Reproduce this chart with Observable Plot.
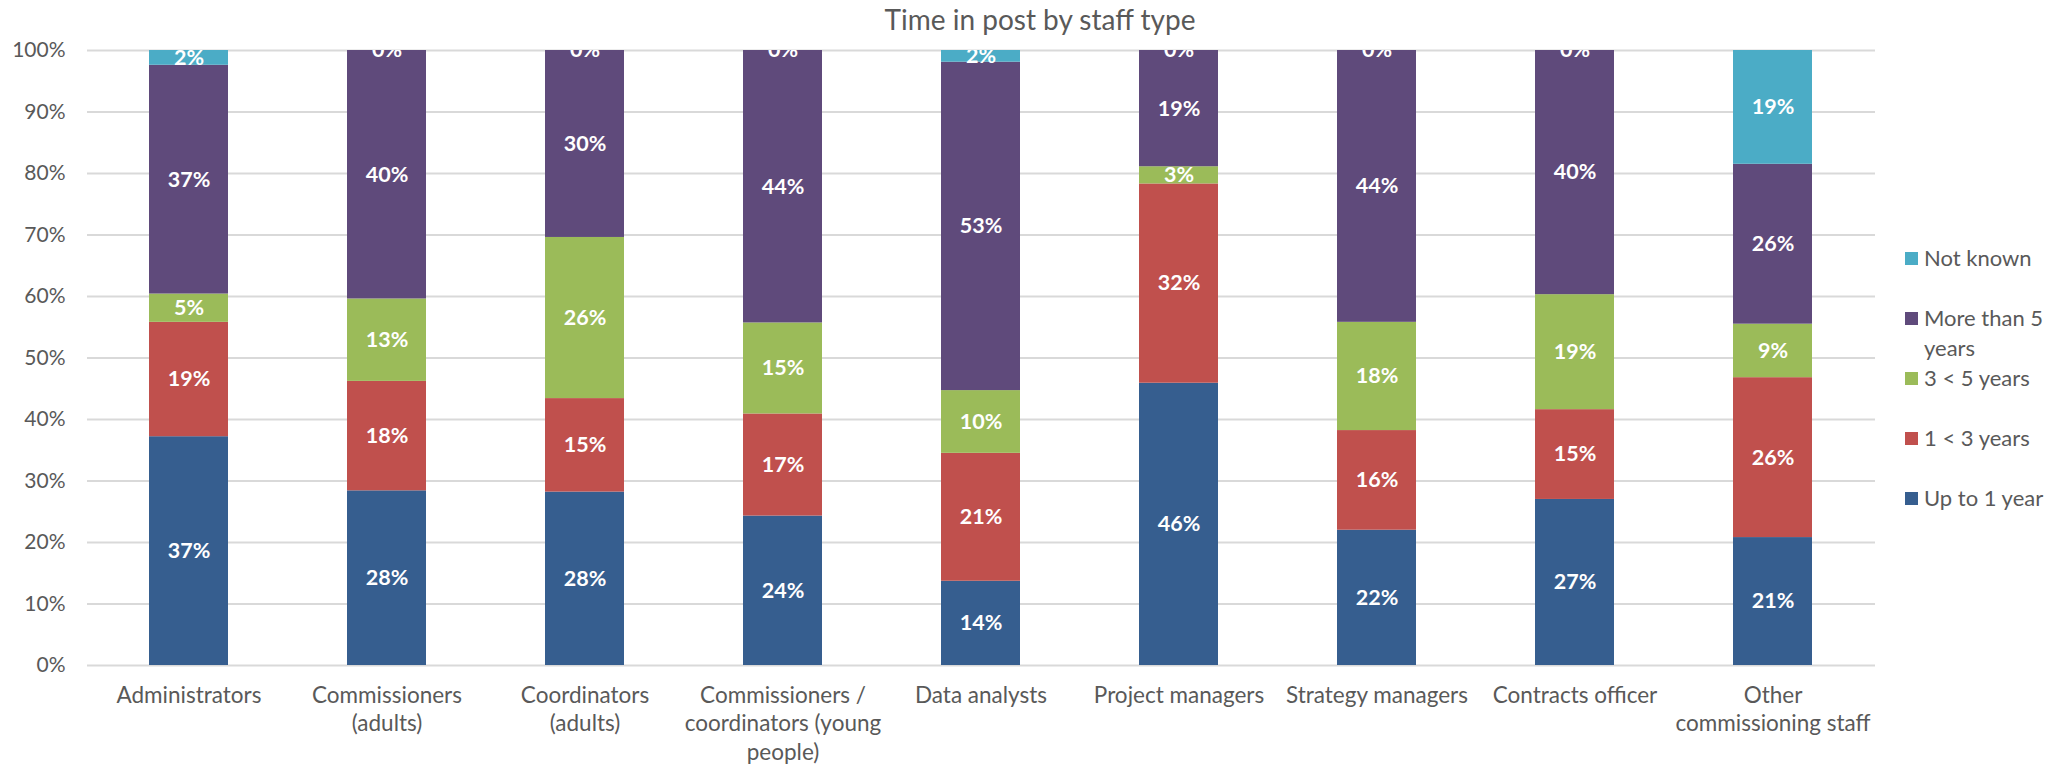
<!DOCTYPE html>
<html>
<head>
<meta charset="utf-8">
<script src="https://cdn.jsdelivr.net/npm/d3@7"></script>
<script src="https://cdn.jsdelivr.net/npm/@observablehq/plot@0.6"></script>
<style>
  html, body { margin: 0; padding: 0; background: #fff; }
  #wrap { position: relative; width: 2058px; height: 767px; font-family: Lato, "Open Sans", sans-serif; color: #595959; }
  #title { position: absolute; left: 0; width: 2080px; top: 1px; text-align: center; font-size: 28px; line-height: 36px; }
  .leg { position: absolute; left: 1905px; font-size: 22px; line-height: 30px; }
  .leg .sw { position: absolute; left: 0; top: 9px; width: 13px; height: 13px; }
  .leg .tx { position: absolute; left: 19px; top: 0; white-space: nowrap; }
  #chart { position: absolute; left: 0; top: 0; }
</style>
</head>
<body>
<div id="wrap">
  <div id="chart"></div>
  <div id="title"></div>
  <div id="legend"></div>
</div>
<script>
const title = "Time in post by staff type";
const categories = ["Administrators", "Commissioners (adults)", "Coordinators (adults)", "Commissioners / coordinators (young people)", "Data analysts", "Project managers", "Strategy managers", "Contracts officer", "Other commissioning staff"];
const categoryLabels = ["Administrators", "Commissioners\n(adults)", "Coordinators\n(adults)", "Commissioners /\ncoordinators (young\npeople)", "Data analysts", "Project managers", "Strategy managers", "Contracts officer", "Other\ncommissioning staff"];
const series = ["Up to 1 year", "1 < 3 years", "3 < 5 years", "More than 5 years", "Not known"];
const legendLabels = ["Not known", "More than 5\nyears", "3 < 5 years", "1 < 3 years", "Up to 1 year"];
const colors = ["#365E8F", "#C0504D", "#9BBB59", "#5F4A7B", "#4BACC6"];
const upTo1Year = [37.2, 28.4, 28.2, 24.3, 13.7, 45.9, 22.0, 27.0, 20.8];
const oneTo3Years = [18.6, 17.8, 15.2, 16.6, 20.8, 32.4, 16.2, 14.6, 26.0];
const threeTo5Years = [4.6, 13.4, 26.2, 14.8, 10.2, 2.8, 17.6, 18.7, 8.7];
const moreThan5Years = [37.2, 40.4, 30.4, 44.3, 53.4, 18.9, 44.2, 39.7, 26.0];
const notKnown = [2.4, 0, 0, 0, 1.9, 0, 0, 0, 18.5];
const yTicks = [0, 10, 20, 30, 40, 50, 60, 70, 80, 90, 100];

const columns = [upTo1Year, oneTo3Years, threeTo5Years, moreThan5Years, notKnown];
const data = categories.flatMap((c, i) => series.map((s, j) => ({category: c, series: s, value: columns[j][i]})));

const chart = Plot.plot({
  width: 2058,
  height: 767,
  marginTop: 50,
  marginBottom: 102,
  marginLeft: 87,
  marginRight: 183,
  style: {fontFamily: "Lato, 'Open Sans', sans-serif", fontSize: "21px", color: "#595959", background: "transparent"},
  x: {domain: categories, paddingInner: 0.6, paddingOuter: 0.3, label: null},
  y: {domain: [0, 100], label: null},
  color: {domain: series, range: colors},
  marks: [
    Plot.gridY(yTicks, {stroke: "#d9d9d9", strokeOpacity: 1, strokeWidth: 2}),
    Plot.barY(data, {x: "category", y: "value", fill: "series", z: "series"}),
    Plot.text(data, Plot.stackY({x: "category", y: "value", z: "series", text: d => Math.round(d.value) + "%", fill: "white", fontWeight: "bold", fontSize: 21.5, clip: true})),
    Plot.axisY(yTicks, {tickFormat: d => d + "%", tickSize: 0, tickPadding: 22, fontSize: 21, label: null}),
    Plot.axisX({tickSize: 0, tickPadding: 17, tickFormat: d => categoryLabels[categories.indexOf(d)], lineHeight: 1.27, fontSize: 22.5, label: null})
  ]
});
document.getElementById("chart").appendChild(chart);
document.getElementById("title").textContent = title;

const legend = document.getElementById("legend");
const legendColors = [colors[4], colors[3], colors[2], colors[1], colors[0]];
legendLabels.forEach((lab, k) => {
  const item = document.createElement("div");
  item.className = "leg";
  item.style.top = (243 + k * 60) + "px";
  const sw = document.createElement("div");
  sw.className = "sw";
  sw.style.background = legendColors[k];
  const tx = document.createElement("div");
  tx.className = "tx";
  tx.innerHTML = lab.split("\n").join("<br>");
  item.appendChild(sw);
  item.appendChild(tx);
  legend.appendChild(item);
});
</script>
</body>
</html>
